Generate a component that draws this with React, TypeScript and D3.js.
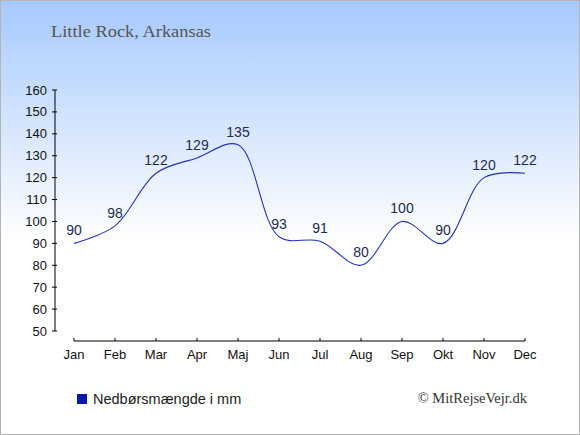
import * as d3 from 'd3';

const months = ['Jan', 'Feb', 'Mar', 'Apr', 'Maj', 'Jun', 'Jul', 'Aug', 'Sep', 'Okt', 'Nov', 'Dec'];
const rainfall = [90, 98, 122, 129, 135, 93, 91, 80, 100, 90, 120, 122];
const yTicks = [50, 60, 70, 80, 90, 100, 110, 120, 130, 140, 150, 160];

const title = 'Little Rock, Arkansas';
const legendLabel = 'Nedbørsmængde i mm';
const credit = '© MitRejseVejr.dk';

export default function App() {
  const width = 580;
  const height = 435;

  const xScale = d3.scalePoint<string>()
    .domain(months)
    .range([74, 525]);

  const yScale = d3.scaleLinear()
    .domain([50, 160])
    .range([331, 90]);

  const points = rainfall.map((v, i) => ({ month: months[i], value: v }));

  const line = d3.line<{ month: string, value: number }>()
    .x(d => xScale(d.month)!)
    .y(d => yScale(d.value))
    .curve(d3.curveCatmullRom.alpha(0.5));

  const pathData = line(points) || '';

  return (
    <div style={{ position: 'fixed', left: 0, top: 0 }}>
      <svg width={width} height={height} style={{ display: 'block' }}>
        <defs>
          <linearGradient id="bg" x1="0" y1="0" x2="0" y2="1">
            <stop offset="0" stopColor="#a6c9fe" />
            <stop offset="0.55" stopColor="#ffffff" />
            <stop offset="1" stopColor="#ffffff" />
          </linearGradient>
        </defs>
        <rect x={0.5} y={0.5} width={width - 1} height={height - 1} fill="url(#bg)" stroke="#b4b4b4" />

        {/* Title */}
        <text x={51} y={37} fontFamily="'Liberation Serif', serif" fontSize={17.5} fill="#555555"
          textLength={160} lengthAdjust="spacingAndGlyphs">
          {title}
        </text>

        {/* Y-axis */}
        <g fontFamily="'Liberation Sans', Arial, sans-serif" fontSize={13} fill="#111111">
          <line x1={55} x2={55} y1={yScale(160)} y2={yScale(50)} stroke="#000" />
          {yTicks.map(t => (
            <g key={t}>
              <line x1={52} x2={57} y1={yScale(t)} y2={yScale(t)} stroke="#000" />
              <text x={47} y={yScale(t)} textAnchor="end" dominantBaseline="central">{t}</text>
            </g>
          ))}
        </g>

        {/* X-axis */}
        <g fontFamily="'Liberation Sans', Arial, sans-serif" fontSize={13} fill="#111111">
          <line x1={xScale('Jan')!} x2={xScale('Dec')!} y1={341} y2={341} stroke="#000" />
          {months.map(m => (
            <g key={m}>
              <line x1={xScale(m)!} x2={xScale(m)!} y1={338} y2={341} stroke="#000" />
              <text x={xScale(m)!} y={359} textAnchor="middle">{m}</text>
            </g>
          ))}
        </g>

        {/* Line */}
        <path d={pathData} fill="none" stroke="#2233bb" strokeWidth={1.1} />

        {/* Value labels */}
        <g fontFamily="'Liberation Sans', Arial, sans-serif" fontSize={14} fill="#1c2b50" textAnchor="middle">
          {points.map(d => (
            <text key={d.month} x={xScale(d.month)!} y={yScale(d.value) - 8}>{d.value}</text>
          ))}
        </g>

        {/* Legend */}
        <rect x={77} y={394} width={10} height={10} fill="#0a1aab" />
        <text x={93} y={404} fontFamily="'Liberation Sans', Arial, sans-serif" fontSize={14.5} fill="#222222">
          {legendLabel}
        </text>

        {/* Credit */}
        <text x={527} y={403} textAnchor="end" fontFamily="'Liberation Serif', serif" fontSize={14.5} fill="#333333">
          {credit}
        </text>
      </svg>
    </div>
  );
}
